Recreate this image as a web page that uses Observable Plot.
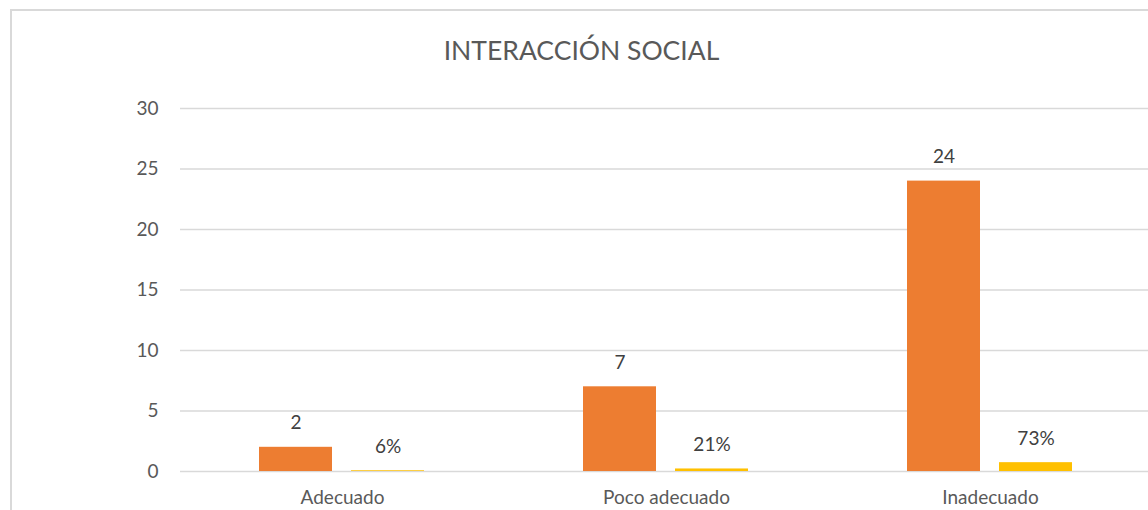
<!DOCTYPE html>
<html>
<head>
<meta charset="utf-8">
<script src="https://cdn.jsdelivr.net/npm/d3@7"></script>
<script src="https://cdn.jsdelivr.net/npm/@observablehq/plot@0.6"></script>
<style>
  html, body { margin: 0; padding: 0; background: #fff; overflow: hidden; width: 1148px; height: 510px; }
  #frame { position: absolute; left: 10px; top: 9px; width: 1200px; height: 600px; border: 2px solid #d9d9d9; box-sizing: border-box; }
  #title { position: absolute; left: 0; top: 35px; width: 1163px; text-align: center; font-family: Lato, "Open Sans", sans-serif; font-size: 26.5px; line-height: 30px; color: #595959; }
  #chart { position: absolute; left: 0; top: 0; }
  #chart svg { max-width: none !important; }
</style>
</head>
<body>
<div id="frame"></div>
<div id="title">INTERACCIÓN SOCIAL</div>
<div id="chart"></div>
<script>
const categories = ["Adecuado", "Poco adecuado", "Inadecuado"];
const counts = [2, 7, 24];
const shares = [0.06, 0.21, 0.73];
const series = ["Frecuencia", "Porcentaje"];
const seriesColors = ["#ED7D31", "#FFC000"];
const yTicks = [0, 5, 10, 15, 20, 25, 30];

const pct = d3.format(".0%");
const data = categories.flatMap((c, i) => [
  {cat: c, s: series[0], v: counts[i], label: String(counts[i])},
  {cat: c, s: series[1], v: shares[i], label: pct(shares[i])}
]);

const chart = Plot.plot({
  width: 1160,
  height: 510,
  marginLeft: 180,
  marginRight: 8,
  marginTop: 108,
  marginBottom: 39,
  style: {fontFamily: "Lato, 'Open Sans', sans-serif", fontSize: "19px", color: "#595959", background: "transparent", overflow: "visible", maxWidth: "none"},
  fx: {domain: categories, padding: 0, label: null, tickSize: 0, tickPadding: 19, axis: "bottom"},
  x: {domain: series, paddingInner: 0.2065, paddingOuter: 0.864, axis: null},
  y: {domain: [0, 30], ticks: yTicks, tickSize: 0, tickPadding: 22, label: null},
  color: {domain: series, range: seriesColors},
  marks: [
    Plot.gridY(yTicks, {stroke: "#d9d9d9", strokeOpacity: 1, strokeWidth: 1.5}),
    Plot.barY(data, {fx: "cat", x: "s", y: "v", fill: "s"}),
    Plot.text(data, {fx: "cat", x: "s", y: "v", text: "label", dy: -24, fill: "#404040", fontSize: 19})
  ]
});
document.getElementById("chart").appendChild(chart);
</script>
</body>
</html>
